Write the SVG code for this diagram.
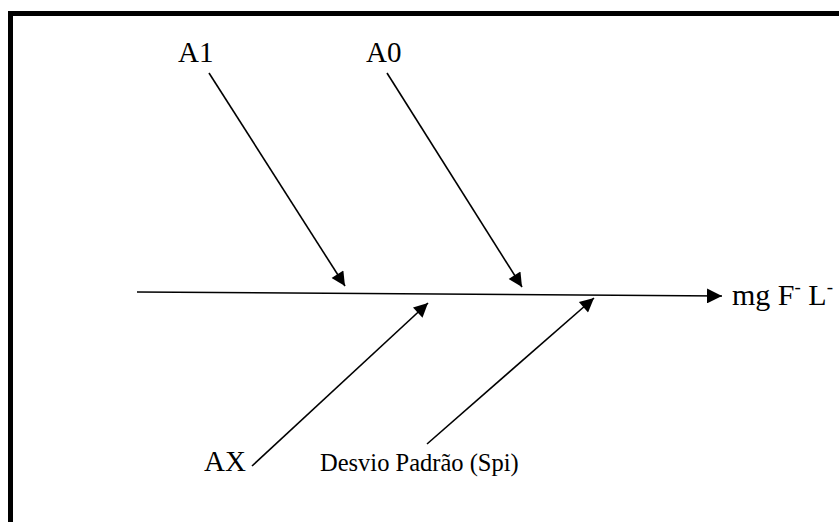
<svg xmlns="http://www.w3.org/2000/svg" width="839" height="522" viewBox="0 0 839 522">
<style>
  .lbl { font-family: "Liberation Serif", "Times New Roman", serif; fill: #000; }
  .big { font-size: 29px; }
  .small { font-size: 24.5px; }
  .conn { stroke: #000; stroke-width: 1.6; fill: none; marker-end: url(#ah); }
</style>
<defs>
  <marker id="ah" viewBox="0 0 10 10" refX="10" refY="5" markerWidth="17" markerHeight="14" markerUnits="userSpaceOnUse" orient="auto">
    <path d="M0,0 L10,5 L0,10 z" fill="#000"/>
  </marker>
  <marker id="ahMain" viewBox="0 0 10 10" refX="10" refY="5" markerWidth="15" markerHeight="15" markerUnits="userSpaceOnUse" orient="auto">
    <path d="M0,0 L10,5 L0,10 z" fill="#000"/>
  </marker>
</defs>
<rect x="0" y="0" width="839" height="522" fill="#fff"/>
<rect x="10.5" y="13.5" width="850" height="530" fill="none" stroke="#000" stroke-width="5"/>
<g id="connectors">
  <path class="conn" d="M137,292 L722,296" style="marker-end:url(#ahMain)"/>
  <path class="conn" d="M209,73 L345,286"/>
  <path class="conn" d="M387,73 L522,287"/>
  <path class="conn" d="M252,466 L428,303"/>
  <path class="conn" d="M427,444 L594,298"/>
</g>
<g id="node-A1"><text class="lbl big" x="178" y="62">A1</text></g>
<g id="node-A0"><text class="lbl big" x="366" y="62">A0</text></g>
<g id="node-AX"><text class="lbl big" x="204" y="471">AX</text></g>
<g id="node-desvio"><text class="lbl small" x="320" y="471">Desvio Padrão (Spi)</text></g>
<g id="node-result"><text class="lbl" font-size="30" x="732" y="305">mg F<tspan font-size="19" dy="-12">-</tspan><tspan dy="12"> L</tspan><tspan font-size="19" dy="-12">-</tspan></text></g>
</svg>
